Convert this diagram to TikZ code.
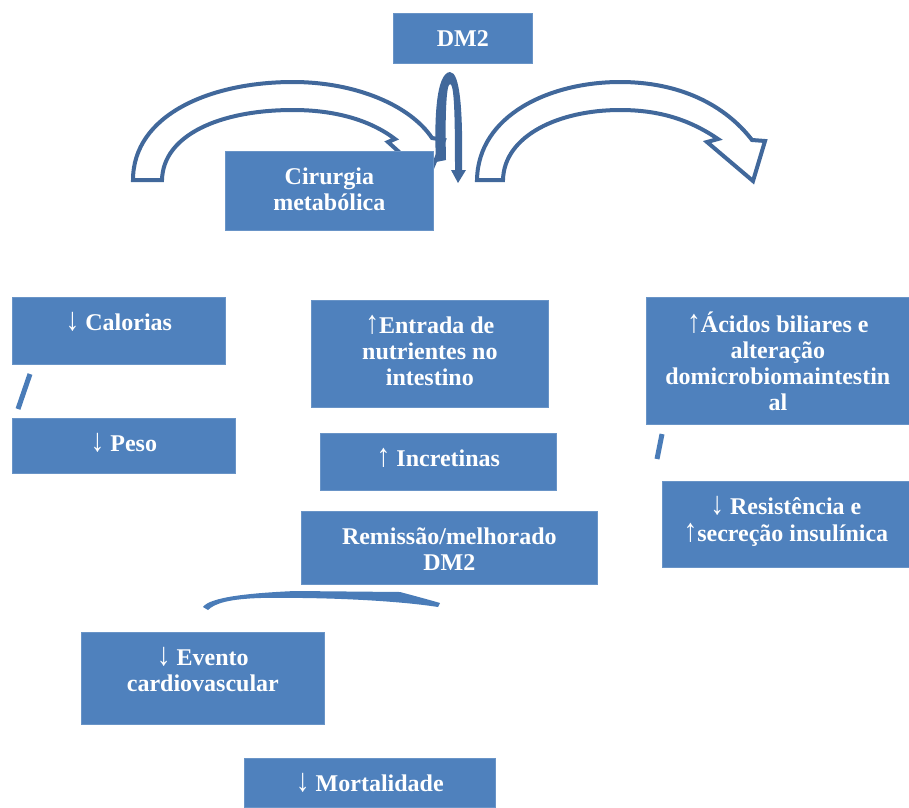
\documentclass[tikz,border=0pt]{standalone}
\usepackage{fontspec}
\setmainfont{Liberation Serif}
\usetikzlibrary{positioning}

\definecolor{boxblue}{RGB}{79,129,189}
\definecolor{lineblue}{RGB}{65,104,155}
\definecolor{slashblue}{RGB}{74,124,184}

% thin, tall arrows as in the figure
\newcommand{\arrdn}{\textmd{\scalebox{1.15}[1.35]{↓}}}
\newcommand{\arrup}{\textmd{\scalebox{1.15}[1.35]{↑}}}

\begin{document}
\begin{tikzpicture}[x=0.75pt, y=-0.75pt,
    blk/.style={fill=boxblue, draw=boxblue!85!white, line width=0.5pt, inner sep=0pt, anchor=north west},
    sz/.style 2 args={minimum width=#1*0.75pt, minimum height=#2*0.75pt},
    txt/.style={text=white, font=\bfseries\fontsize{18}{19.5}\selectfont, align=center, inner sep=0pt},
    bendarrow/.style={draw=lineblue, fill=white, line width=3pt, line join=miter},
    slash/.style={draw=slashblue, line width=3.75pt}]
    \useasboundingbox (0,0) rectangle (909,807);

    % Curved block arrows
    \path[bendarrow] (133,180) .. controls (133,115) and (210,82) .. (293,82)
        .. controls (355,82) and (410,105) .. (432,138) -- (444,140) -- (428,178)
        -- (388,142) -- (395,139) .. controls (370,120) and (335,110) .. (293,110)
        .. controls (220,110) and (163,135) .. (162,180) -- cycle;
    \path[bendarrow] (477,180) .. controls (478,115) and (550,82) .. (620,82)
        .. controls (680,82) and (725,105) .. (752,140) -- (765,141) -- (753,181)
        -- (707,142) -- (718,139) .. controls (690,120) and (660,110) .. (620,110)
        .. controls (560,110) and (504,135) .. (503,180) -- cycle;

    % Boxes
    \node[blk, sz={139}{50}] (dm) at (393,13) {};
    \node[blk, sz={208}{79}] (cir) at (225,151) {};
    \node[blk, sz={213}{67}] (cal) at (12,297) {};
    \node[blk, sz={223}{55}] (peso) at (12,418) {};
    \node[blk, sz={237}{107}] (ent) at (311,300) {};
    \node[blk, sz={236}{57}] (inc) at (320,433) {};
    \node[blk, sz={296}{73}] (rem) at (301,511) {};
    \node[blk, sz={263}{127}] (aci) at (646,297) {};
    \node[blk, sz={247}{86}] (res) at (662,481) {};
    \node[blk, sz={243}{92}] (evt) at (81,632) {};
    \node[blk, sz={251}{49}] (mor) at (244,758) {};

    % Texts
    \node[txt, below=11.25pt of dm.north] (dm-t) {\strut DM2};
    \node[txt, below=11.25pt of cir.north] (cir-t) {\strut Cirurgia\\metabólica};
    \node[txt, below=11.25pt of cal.north] (cal-t) {\strut \arrdn{} Calorias};
    \node[txt, below=11.25pt of peso.north] (peso-t) {\strut \arrdn{} Peso};
    \node[txt, below=11.25pt of ent.north] (ent-t) {\strut \arrup{}Entrada de\\nutrientes no\\intestino};
    \node[txt, below=11.25pt of inc.north] (inc-t) {\strut \arrup{} Incretinas};
    \node[txt, below=11.25pt of rem.north] (rem-t) {\strut Remissão/melhorado\\DM2};
    \node[txt, below=11.25pt of aci.north] (aci-t) {\strut \arrup{}Ácidos biliares e\\alteração\\domicrobiomaintestin\\al};
    \node[txt, below=11.25pt of res.north] (res-t) {\strut \arrdn{} Resistência e\\\arrup{}secreção insulínica};
    \node[txt, below=11.25pt of evt.north] (evt-t) {\strut \arrdn{} Evento\\cardiovascular};
    \node[txt, below=11.25pt of mor.north] (mor-t) {\strut \arrdn{} Mortalidade};

    % U-turn arrow under DM2
    \fill[lineblue] (436,162) .. controls (434,120) and (436,73) .. (450,72)
        .. controls (460,72) and (463,110) .. (462,170) -- (466,170) -- (458,183)
        -- (451,170) -- (455,170) .. controls (455,110) and (454,84) .. (450,84)
        .. controls (446,84) and (445,120) .. (446,160) -- cycle;

    % Small strokes
    \draw[slash] (30,374) -- (18,409);
    \draw[slash] (662,434) -- (657,459);
    \fill[slashblue] (203,607) .. controls (210,597) and (250,593) .. (295,591)
        -- (400,592) .. controls (415,596) and (430,600) .. (440,603) -- (438,607)
        .. controls (400,601) and (330,597) .. (260,598)
        .. controls (230,599) and (215,603) .. (208,610) -- cycle;

\end{tikzpicture}
\end{document}
